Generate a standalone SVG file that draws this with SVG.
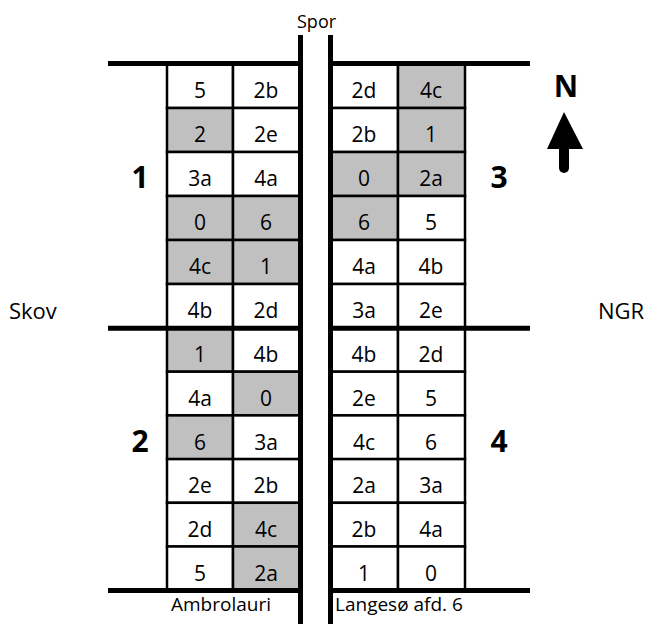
<svg xmlns="http://www.w3.org/2000/svg" width="654" height="624" viewBox="0 0 654 624">
<style>
.c{font-family:"Open Sans","DejaVu Sans",sans-serif;font-size:21px;fill:#000;text-anchor:middle}
.l{font-family:"Open Sans","DejaVu Sans",sans-serif;font-size:22px;fill:#000}
.s{font-family:"Open Sans","DejaVu Sans",sans-serif;font-size:19px;fill:#000}
.b{font-family:"Open Sans","DejaVu Sans",sans-serif;font-size:30px;font-weight:bold;fill:#000;text-anchor:middle}
.w{fill:#fff;stroke:#000;stroke-width:2.5}
.g{fill:#c0c0c0;stroke:#000;stroke-width:2.5}
.t{stroke:#000;stroke-width:5;fill:none}
</style>
<rect width="654" height="624" fill="#fff"/>
<g id="block1">
<rect class="w" x="167" y="64" width="66" height="44"/><text class="c" x="200" y="98">5</text>
<rect class="w" x="233" y="64" width="67" height="44"/><text class="c" x="266" y="98">2b</text>
<rect class="g" x="167" y="108" width="66" height="44"/><text class="c" x="200" y="142">2</text>
<rect class="w" x="233" y="108" width="67" height="44"/><text class="c" x="266" y="142">2e</text>
<rect class="w" x="167" y="152" width="66" height="44"/><text class="c" x="200" y="186">3a</text>
<rect class="w" x="233" y="152" width="67" height="44"/><text class="c" x="266" y="186">4a</text>
<rect class="g" x="167" y="196" width="66" height="44"/><text class="c" x="200" y="230">0</text>
<rect class="g" x="233" y="196" width="67" height="44"/><text class="c" x="266" y="230">6</text>
<rect class="g" x="167" y="240" width="66" height="44"/><text class="c" x="200" y="274">4c</text>
<rect class="g" x="233" y="240" width="67" height="44"/><text class="c" x="266" y="274">1</text>
<rect class="w" x="167" y="284" width="66" height="44"/><text class="c" x="200" y="318">4b</text>
<rect class="w" x="233" y="284" width="67" height="44"/><text class="c" x="266" y="318">2d</text>
<text class="b" x="140" y="188">1</text>
</g>
<g id="block2">
<rect class="g" x="167" y="328" width="66" height="43.7"/><text class="c" x="200" y="362">1</text>
<rect class="w" x="233" y="328" width="67" height="43.7"/><text class="c" x="266" y="362">4b</text>
<rect class="w" x="167" y="371.7" width="66" height="43.7"/><text class="c" x="200" y="406">4a</text>
<rect class="g" x="233" y="371.7" width="67" height="43.7"/><text class="c" x="266" y="406">0</text>
<rect class="g" x="167" y="415.4" width="66" height="43.7"/><text class="c" x="200" y="450">6</text>
<rect class="w" x="233" y="415.4" width="67" height="43.7"/><text class="c" x="266" y="450">3a</text>
<rect class="w" x="167" y="459.1" width="66" height="43.7"/><text class="c" x="200" y="493">2e</text>
<rect class="w" x="233" y="459.1" width="67" height="43.7"/><text class="c" x="266" y="493">2b</text>
<rect class="w" x="167" y="502.8" width="66" height="43.7"/><text class="c" x="200" y="537">2d</text>
<rect class="g" x="233" y="502.8" width="67" height="43.7"/><text class="c" x="266" y="537">4c</text>
<rect class="w" x="167" y="546.5" width="66" height="44"/><text class="c" x="200" y="581">5</text>
<rect class="g" x="233" y="546.5" width="67" height="44"/><text class="c" x="266" y="581">2a</text>
<text class="b" x="140" y="452">2</text>
</g>
<g id="block3">
<rect class="w" x="331" y="64" width="67" height="44"/><text class="c" x="364" y="98">2d</text>
<rect class="g" x="398" y="64" width="67" height="44"/><text class="c" x="431" y="98">4c</text>
<rect class="w" x="331" y="108" width="67" height="44"/><text class="c" x="364" y="142">2b</text>
<rect class="g" x="398" y="108" width="67" height="44"/><text class="c" x="431" y="142">1</text>
<rect class="g" x="331" y="152" width="67" height="44"/><text class="c" x="364" y="186">0</text>
<rect class="g" x="398" y="152" width="67" height="44"/><text class="c" x="431" y="186">2a</text>
<rect class="g" x="331" y="196" width="67" height="44"/><text class="c" x="364" y="230">6</text>
<rect class="w" x="398" y="196" width="67" height="44"/><text class="c" x="431" y="230">5</text>
<rect class="w" x="331" y="240" width="67" height="44"/><text class="c" x="364" y="274">4a</text>
<rect class="w" x="398" y="240" width="67" height="44"/><text class="c" x="431" y="274">4b</text>
<rect class="w" x="331" y="284" width="67" height="44"/><text class="c" x="364" y="318">3a</text>
<rect class="w" x="398" y="284" width="67" height="44"/><text class="c" x="431" y="318">2e</text>
<text class="b" x="499" y="188">3</text>
</g>
<g id="block4">
<rect class="w" x="331" y="328" width="67" height="43.7"/><text class="c" x="364" y="362">4b</text>
<rect class="w" x="398" y="328" width="67" height="43.7"/><text class="c" x="431" y="362">2d</text>
<rect class="w" x="331" y="371.7" width="67" height="43.7"/><text class="c" x="364" y="406">2e</text>
<rect class="w" x="398" y="371.7" width="67" height="43.7"/><text class="c" x="431" y="406">5</text>
<rect class="w" x="331" y="415.4" width="67" height="43.7"/><text class="c" x="364" y="450">4c</text>
<rect class="w" x="398" y="415.4" width="67" height="43.7"/><text class="c" x="431" y="450">6</text>
<rect class="w" x="331" y="459.1" width="67" height="43.7"/><text class="c" x="364" y="493">2a</text>
<rect class="w" x="398" y="459.1" width="67" height="43.7"/><text class="c" x="431" y="493">3a</text>
<rect class="w" x="331" y="502.8" width="67" height="43.7"/><text class="c" x="364" y="537">2b</text>
<rect class="w" x="398" y="502.8" width="67" height="43.7"/><text class="c" x="431" y="537">4a</text>
<rect class="w" x="331" y="546.5" width="67" height="44"/><text class="c" x="364" y="581">1</text>
<rect class="w" x="398" y="546.5" width="67" height="44"/><text class="c" x="431" y="581">0</text>
<text class="b" x="499" y="452">4</text>
</g>
<g id="lines">
<line class="t" x1="300.5" y1="35" x2="300.5" y2="624"/>
<line class="t" x1="330.5" y1="35" x2="330.5" y2="624"/>
<line class="t" x1="108" y1="63.5" x2="300" y2="63.5"/>
<line class="t" x1="331" y1="63.5" x2="530" y2="63.5"/>
<line class="t" x1="108" y1="328.3" x2="300" y2="328.3"/>
<line class="t" x1="331" y1="328.3" x2="530" y2="328.3"/>
<line class="t" x1="108" y1="590.5" x2="300" y2="590.5"/>
<line class="t" x1="331" y1="590.5" x2="530" y2="590.5"/>
</g>
<g id="labels">
<text class="s" x="297" y="28" style="font-size:18px">Spor</text>
<text class="l" x="9" y="319">Skov</text>
<text class="l" x="598" y="319">NGR</text>
<text class="s" x="171" y="611">Ambrolauri</text>
<text class="s" x="335" y="611">Langesø afd. 6</text>
</g>
<g id="north">
<text class="b" x="566" y="97">N</text>
<polygon points="564,112 547,149 583,149" fill="#000"/>
<line x1="564" y1="148" x2="564" y2="168" stroke="#000" stroke-width="10" stroke-linecap="round"/>
</g>
</svg>
